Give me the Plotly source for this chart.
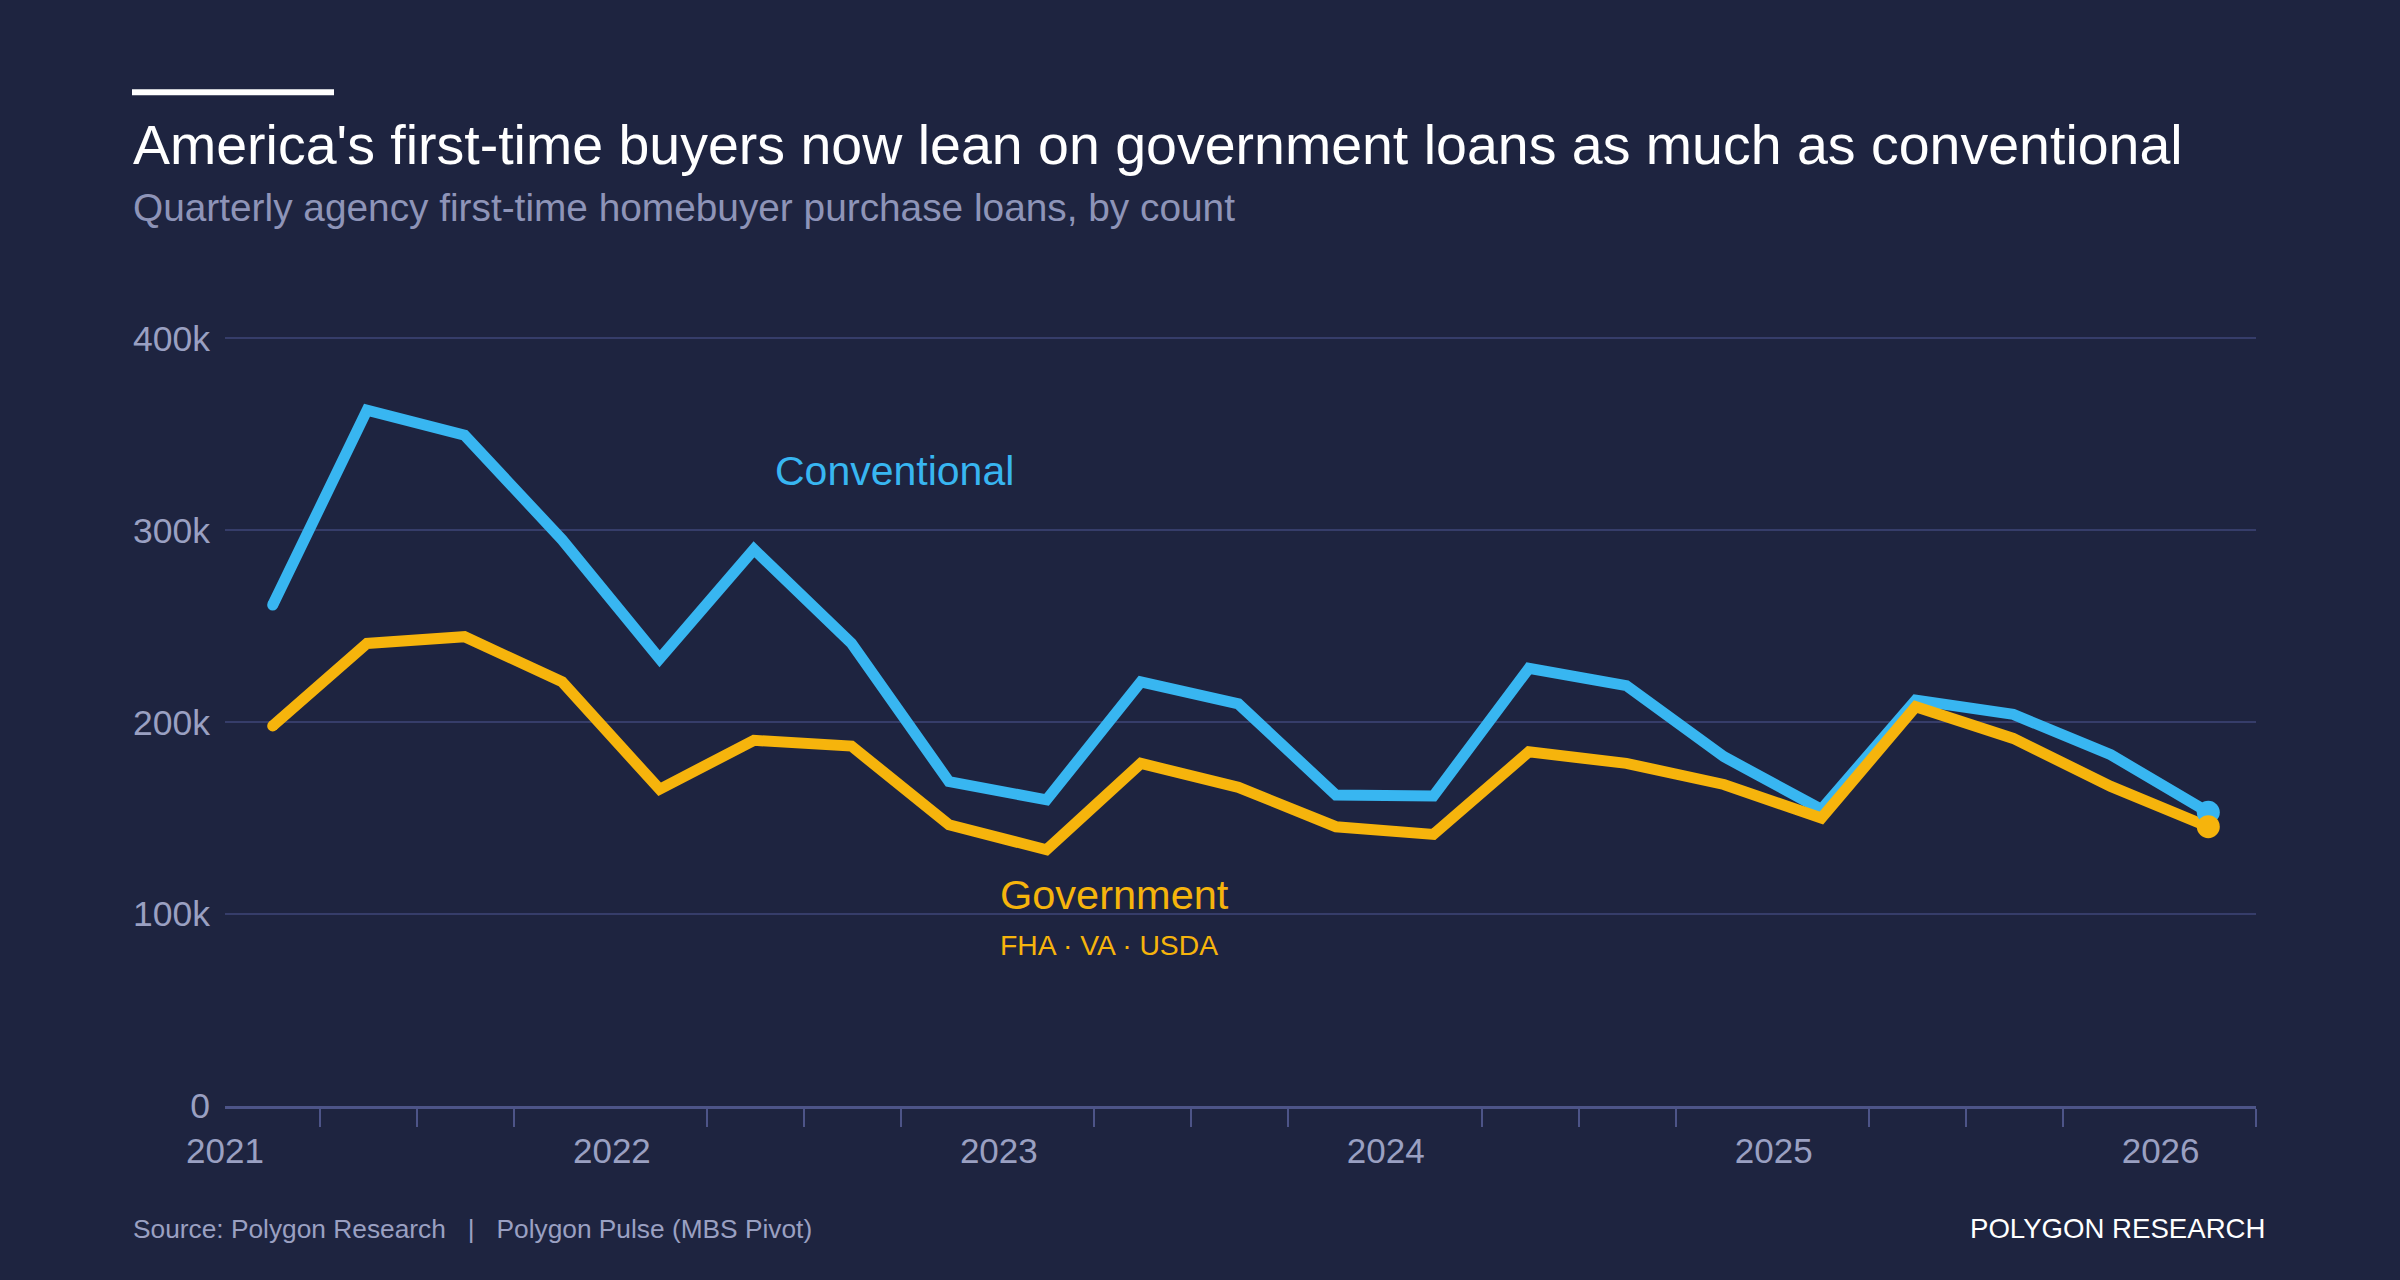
import plotly.graph_objects as go
import pandas as pd

# ---- data ----
quarters = ["2021-02-15", "2021-05-15", "2021-08-15", "2021-11-15",
            "2022-02-15", "2022-05-15", "2022-08-15", "2022-11-15",
            "2023-02-15", "2023-05-15", "2023-08-15", "2023-11-15",
            "2024-02-15", "2024-05-15", "2024-08-15", "2024-11-15",
            "2025-02-15", "2025-05-15", "2025-08-15", "2025-11-15",
            "2026-02-15"]
conventional = [261000, 362500, 349500, 295000, 233000, 290000, 241000, 169000,
                159500, 221000, 209500, 162000, 161500, 228000, 219000, 182000,
                154500, 211500, 204000, 183000, 153000]
government = [198000, 241000, 244500, 221000, 165000, 190500, 187500, 146500,
              133500, 178500, 166000, 145500, 141500, 184500, 178500, 167500,
              150000, 208000, 191500, 166500, 145500]
y_ticks = [0, 100000, 200000, 300000, 400000]
y_tick_labels = ["0", "100k", "200k", "300k", "400k"]
x_years = ["2021-01-01", "2022-01-01", "2023-01-01", "2024-01-01", "2025-01-01", "2026-01-01"]
x_year_labels = ["2021", "2022", "2023", "2024", "2025", "2026"]

BG = "#1e2440"
BLUE = "#38b6f1"
GOLD = "#f6b40c"
GRAY = "#9aa0c2"
GRID = "#363d6a"
AXIS = "#4d5488"
FONT = "Liberation Sans, Arial, sans-serif"

W, H = 2400, 1280
Y_MAX = 410000
PX0, PX1, PY_BOT = 225, 2256, 1106
PY_400 = 338
PY_TOP = PY_BOT - (PY_BOT - PY_400) * Y_MAX / 400000


def px(x):
    return (x - PX0) / (PX1 - PX0)


def py(y):
    return (PY_BOT - y) / (PY_BOT - PY_TOP)


# quarter boundary tick marks (not at year starts)
q_bounds = pd.date_range("2021-01-01", "2026-04-01", freq="QS")
minor_ticks = [d.strftime("%Y-%m-%d") for d in q_bounds if d.month != 1]

LW = 11
fig = go.Figure()
for series, color in ((conventional, BLUE), (government, GOLD)):
    fig.add_trace(go.Scatter(x=quarters, y=series, mode="lines",
                             line=dict(color=color, width=LW), hoverinfo="skip"))
    # rounded start cap
    fig.add_trace(go.Scatter(x=[quarters[0]], y=[series[0]], mode="markers",
                             marker=dict(color=color, size=LW, line=dict(width=0)),
                             hoverinfo="skip"))
for series, color in ((conventional, BLUE), (government, GOLD)):
    fig.add_trace(go.Scatter(x=[quarters[-1]], y=[series[-1]], mode="markers",
                             marker=dict(color=color, size=23, line=dict(width=0)),
                             hoverinfo="skip"))

fig.update_layout(
    width=W, height=H,
    paper_bgcolor=BG, plot_bgcolor=BG,
    showlegend=False,
    margin=dict(l=PX0, r=W - PX1, t=PY_TOP, b=H - PY_BOT, pad=0),
    font=dict(family=FONT, color=GRAY),
    xaxis=dict(
        type="date",
        range=["2021-01-01", "2026-04-01"],
        tickmode="array", tickvals=x_years, ticktext=x_year_labels,
        ticks="", showgrid=False, zeroline=False,
        showline=True, linecolor=AXIS, linewidth=3,
        tickfont=dict(size=35, color=GRAY, family=FONT),
        ticklabelstandoff=12,
        minor=dict(ticks="outside", ticklen=18, tickwidth=2, tickcolor=AXIS,
                   tickmode="array", tickvals=minor_ticks, showgrid=False),
    ),
    yaxis=dict(
        range=[0, Y_MAX],
        tickmode="array", tickvals=y_ticks, ticktext=y_tick_labels,
        showgrid=True, gridcolor=GRID, gridwidth=2,
        zeroline=False, showline=False, ticks="",
        tickfont=dict(size=35.5, color=GRAY, family=FONT),
        ticklabelstandoff=14,
    ),
)

anns = [
    dict(text="America's first-time buyers now lean on government loans as much as conventional",
         x=px(131), y=py(145), font=dict(size=55.5, color="#ffffff")),
    dict(text="Quarterly agency first-time homebuyer purchase loans, by count",
         x=px(131), y=py(207), font=dict(size=38.8, color="#8e94b8")),
    dict(text="Source: Polygon Research   |   Polygon Pulse (MBS Pivot)",
         x=px(131), y=py(1229), font=dict(size=26.3, color=GRAY)),
    dict(text="POLYGON RESEARCH", x=px(2267), y=py(1229), xanchor="right",
         font=dict(size=27.6, color="#ffffff")),
]
for a in anns:
    a.setdefault("xanchor", "left")
    fig.add_annotation(xref="paper", yref="paper", yanchor="middle",
                       showarrow=False, **a)

fig.add_annotation(x="2022-06-02", y=331000, xref="x", yref="y", text="Conventional",
                   showarrow=False, xanchor="left", yanchor="middle",
                   font=dict(size=41, color=BLUE, family=FONT))
fig.add_annotation(x="2022-12-31", y=110000, xref="x", yref="y", text="Government",
                   showarrow=False, xanchor="left", yanchor="middle",
                   font=dict(size=41.5, color=GOLD, family=FONT))
fig.add_annotation(x="2022-12-31", y=84000, xref="x", yref="y", text="FHA · VA · USDA",
                   showarrow=False, xanchor="left", yanchor="middle",
                   font=dict(size=28.3, color=GOLD, family=FONT))

fig.add_shape(type="rect", xref="paper", yref="paper",
              x0=px(132), x1=px(334), y0=py(95), y1=py(89),
              fillcolor="#ffffff", line=dict(width=0))

fig.write_html("out.html")
